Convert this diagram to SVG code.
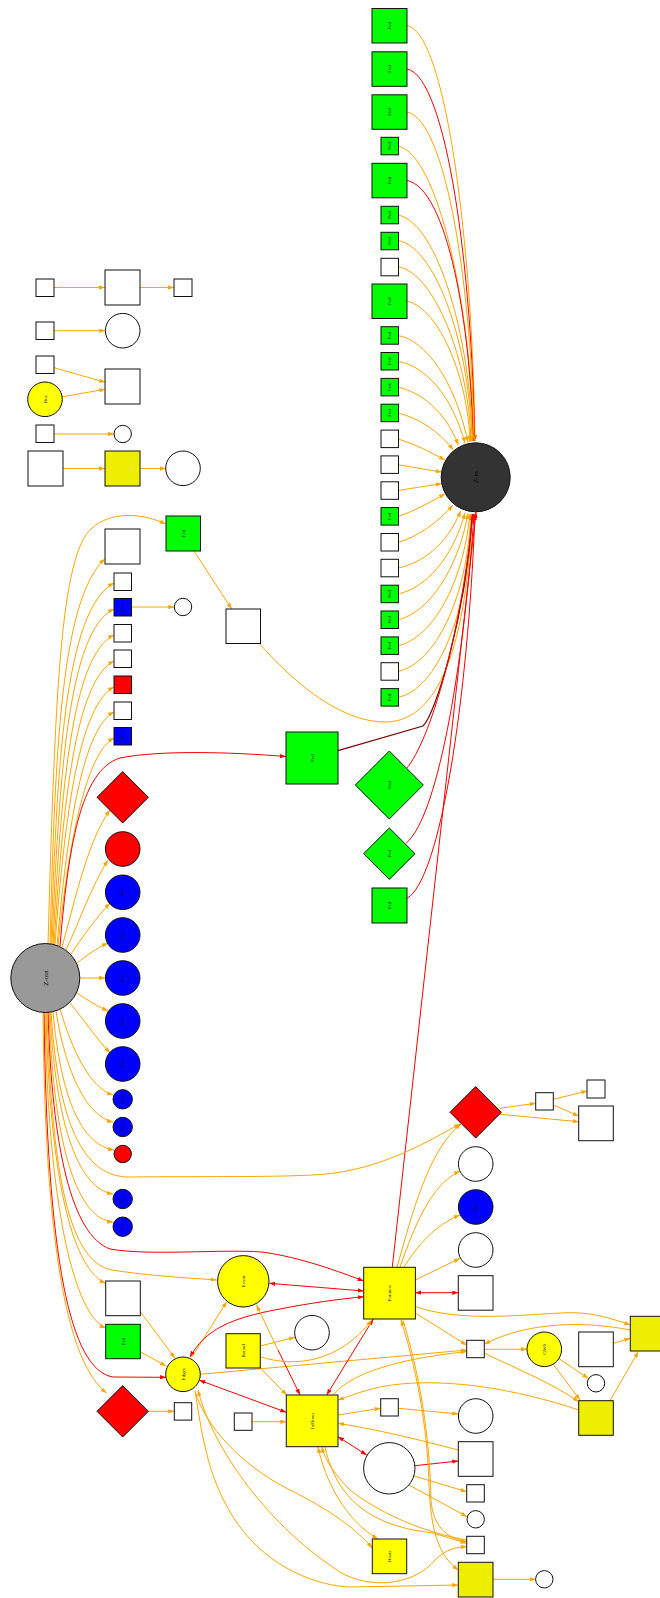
<svg xmlns="http://www.w3.org/2000/svg" width="660" height="1598" viewBox="0 0 660 1598">
<style>
  .n{stroke:#111;stroke-width:1}
  .w{fill:#fff}.g{fill:#00ff00}.b{fill:#0000ff}.r{fill:#ff0000}.y{fill:#ffff00}.y2{fill:#eeee00}
  .t{font-family:"Liberation Serif",serif;font-size:5px;text-anchor:middle;fill:#111}
  .tb{font-family:"Liberation Serif",serif;font-size:7px;text-anchor:middle;fill:#000}
  .eo{fill:none;stroke:#ffa500;stroke-width:1;marker-end:url(#ao)}
  .er{fill:none;stroke:#ff0000;stroke-width:1;marker-end:url(#ar)}
  .eo2{marker-start:url(#ao)}
  .er2{marker-start:url(#ar)}
  .em{fill:none;stroke:#800000;stroke-width:1.3}
</style>
<defs>
  <marker id="ao" viewBox="0 0 6 4.4" refX="6" refY="2.2" markerWidth="6" markerHeight="4.4" markerUnits="userSpaceOnUse" orient="auto-start-reverse"><path d="M0,0L6,2.2L0,4.4z" fill="#ffa500"/></marker>
  <marker id="ar" viewBox="0 0 6 4.4" refX="6" refY="2.2" markerWidth="6" markerHeight="4.4" markerUnits="userSpaceOnUse" orient="auto-start-reverse"><path d="M0,0L6,2.2L0,4.4z" fill="#ff0000"/></marker>
</defs>
<rect width="660" height="1598" fill="#fff"/>

<g id="connectors">
  <!-- loose pairs on the left -->
  <path class="eo" d="M54,287.5L105,287.5"/>
  <path class="eo" d="M140,287.5L174,287.5"/>
  <path class="eo" d="M54,330.7L105.4,330.7"/>
  <path class="eo" d="M54,367.7L105.3,382.3"/>
  <path class="eo" d="M62.7,396.7L105.3,389.3"/>
  <path class="eo" d="M54,434L114,434"/>
  <path class="eo" d="M63,468.5L105,468.5"/>
  <path class="eo" d="M140,468.5L166,468.5"/>

  <!-- fan-in to Z-in -->
  <path class="eo" d="M407,25.5C447,33.5 473,254 475,441"/>
  <path class="er" d="M407,69C447,77 472.5,274 474.5,441"/>
  <path class="eo" d="M407,112C447,120 472,293 474,441"/>
  <path class="eo" d="M398,146C438,154 471.5,308 473.5,441"/>
  <path class="er" d="M407,180.5C447,188 471,324 473,441"/>
  <path class="eo" d="M398,215C438,223 470.5,339 472.5,441.2"/>
  <path class="eo" d="M398,240.5C438,248 470,351 472,441.3"/>
  <path class="eo" d="M398,266.5C436,274 469,363 471,441.5"/>
  <path class="eo" d="M407,301C440,309 468,379 470,442"/>
  <path class="eo" d="M398,335.5C425,340 455,380 468,442.5"/>
  <path class="eo" d="M398,361.3C425,366 452,395 465,443.3"/>
  <path class="eo" d="M398,387.2C420,392 445,410 458.3,445"/>
  <path class="eo" d="M398,413C418,418 438,430 453.3,450"/>
  <path class="eo" d="M398,438.9C415,444 430,452 445,460"/>
  <path class="eo" d="M398,464.7C412,467 428,470 441.7,472"/>
  <path class="eo" d="M398,490.6C412,488 428,486 441.7,483.5"/>
  <path class="eo" d="M398,516.4C415,511 430,502 445,494"/>
  <path class="eo" d="M398,542.3C418,537 438,522 453,505"/>
  <path class="eo" d="M398,568.1C422,563 447,545 460.7,510.7"/>
  <path class="eo" d="M398,594C425,588 452,560 465,512.7"/>
  <path class="eo" d="M398,619.8C428,613 458,570 468,513.3"/>
  <path class="eo" d="M398,645.7C432,638 463,585 470,513.5"/>
  <path class="eo" d="M398,671.5C435,663 467,600 471,513.8"/>
  <path class="eo" d="M398,697.4C437,689 469,615 472,514"/>
  <path class="eo" d="M258,642C300,690 345,722 385,722C425,722 465,680 472,514"/>
  <path class="em" d="M338,750.7L423,726C435,715 465,620 472.5,514"/>
  <path class="er" d="M406.7,768.3C430,740 460,640 473,514"/>
  <path class="er" d="M406,843.3C440,815 465,650 474,514"/>
  <path class="er" d="M407,898.3C440,880 468,700 475,514"/>
  <path class="er" d="M392.3,1267L476,512"/>

  <!-- fan-out from Z-out -->
  <path class="eo" d="M48,944C55,700 60,555 92,528C110,512 140,512 165.7,524"/>
  <path class="eo" d="M50,944C55,760 60,600 105,558.7"/>
  <path class="eo" d="M51,944C57,770 64,610 114,583"/>
  <path class="eo" d="M52,944C59,780 68,630 114,609"/>
  <path class="eo" d="M53,944C61,790 72,655 114,635"/>
  <path class="eo" d="M54,945C63,800 76,680 114,661"/>
  <path class="eo" d="M55,945C65,810 80,705 114,687"/>
  <path class="eo" d="M57,946C68,820 84,728 114,712"/>
  <path class="eo" d="M58,946C70,830 88,752 114,738"/>
  <path class="er" d="M60,946C68,850 80,770 120,758C160,750 230,752 286,756.5"/>
  <path class="eo" d="M62,947C75,900 88,840 110,810"/>
  <path class="eo" d="M66,950C80,920 92,885 108,860"/>
  <path class="eo" d="M71,954C84,935 96,918 110,903"/>
  <path class="eo" d="M77,963C87,955 97,948 108,943"/>
  <path class="eo" d="M80,978L105,978"/>
  <path class="eo" d="M77,993C87,1000 97,1006 108,1011"/>
  <path class="eo" d="M70,1003C84,1020 96,1038 110,1053"/>
  <path class="eo" d="M60,1009C72,1050 90,1088 113,1095"/>
  <path class="eo" d="M56,1011C66,1075 88,1117 113,1122"/>
  <path class="eo" d="M53,1012C61,1100 82,1145 114,1150"/>
  <path class="eo" d="M51,1012C58,1120 82,1178 130,1177C200,1176 300,1178 335,1173C390,1165 430,1140 460,1124"/>
  <path class="eo" d="M50,1012C56,1130 80,1189 113,1194"/>
  <path class="eo" d="M49,1012C54,1150 78,1219 113,1222"/>
  <path class="er" d="M48,1012C52,1150 72,1235 110,1249C150,1256 220,1249 262,1252C300,1257 340,1272 363.7,1281"/>
  <path class="eo" d="M47,1012C52,1180 70,1262 112,1270C150,1276 190,1278 216.7,1280"/>
  <path class="eo" d="M46,1012C50,1190 75,1270 105.7,1283.3"/>
  <path class="eo" d="M45,1012C48,1210 75,1315 105.7,1328"/>
  <path class="er" d="M44,1012C47,1260 70,1370 113,1377L166,1377.3"/>
  <path class="eo" d="M43,1012C45,1260 70,1365 106.7,1393"/>

  <path class="eo" d="M194,551L231.7,609"/>
  <path class="eo" d="M131,607L174.3,607"/>

  <!-- lower cluster -->
  <path class="eo" d="M397,1267C412,1215 428,1150 461,1124"/>
  <path class="eo" d="M400,1267C414,1228 430,1185 460,1171"/>
  <path class="eo" d="M404,1267C418,1245 435,1225 460,1215"/>
  <path class="eo" d="M415.3,1280L460,1258.3"/>
  <path class="er er2" d="M415.3,1292.7L458.3,1292.7"/>
  <path class="eo" d="M415.7,1306.7C460,1322 520,1315 560,1313C590,1311 610,1318 630.3,1325"/>
  <path class="eo" d="M415.7,1313.3C435,1325 450,1335 466.7,1345"/>
  <path class="eo" d="M630.3,1330C590,1322 530,1320 484.3,1344.3"/>
  <path class="eo" d="M484.3,1349.3L527,1349.3"/>
  <path class="eo" d="M484.3,1353.3C520,1370 555,1385 578.7,1401.7"/>
  <path class="eo" d="M558,1358L588.3,1378.3"/>
  <path class="eo" d="M553,1364L580,1400"/>
  <path class="eo" d="M613.3,1343.3L630.3,1338.3"/>
  <path class="eo" d="M610,1400.7L638.3,1351.7"/>
  <path class="eo" d="M578.7,1410C520,1390 440,1375 380,1387C362,1391 350,1396 338,1400"/>
  <path class="eo" d="M200,1374.3L466.7,1350"/>
  <path class="eo" d="M333,1395C350,1375 390,1360 466.7,1351.5"/>
  <path class="eo" d="M338,1415L380.7,1408.3"/>
  <path class="eo" d="M398.3,1408.3L458.3,1414"/>
  <path class="eo" d="M458.3,1450C420,1440 380,1430 338,1423.3"/>
  <path class="er er2" d="M338,1436.7L366.7,1455"/>
  <path class="er" d="M415,1465.7L458.3,1461"/>
  <path class="eo" d="M414,1476L466.7,1491.7"/>
  <path class="eo" d="M409,1485L467,1516.7"/>
  <path class="eo" d="M493,1579.3L535.7,1579.3"/>
  <path class="eo" d="M140.3,1311.7L175,1358.3"/>
  <path class="eo" d="M140.3,1351.7L166,1366"/>
  <path class="eo" d="M148.3,1411.3L174.3,1411.3"/>
  <path class="eo" d="M252,1421.7L286.3,1421.7"/>
  <path class="er er2" d="M199.3,1380.2L286.3,1412.3"/>
  <path class="eo" d="M191.7,1357.5L226.7,1301.7"/>
  <path class="er er2" d="M190,1357C205,1330 230,1318 280,1309C310,1303 340,1299 363.7,1296.7"/>
  <path class="er er2" d="M269.3,1283.3L363.7,1291"/>
  <!-- Event / InFlows pair: orange half toward Event, red half toward InFlows -->
  <path class="eo" d="M278,1350L256.5,1305"/>
  <path class="er" d="M278,1350L300,1395"/>
  <path class="er er2" d="M373.3,1319L326.7,1395"/>
  <path class="eo" d="M260.3,1346L295,1337.3"/>
  <path class="eo" d="M260.3,1356.7C295,1368 340,1362 371.7,1320"/>
  <path class="eo" d="M260.3,1368L286.7,1395"/>
  <path class="eo" d="M500,1108.3L535.7,1103.3"/>
  <path class="eo" d="M500,1114.3L578.7,1121.7"/>
  <path class="eo" d="M553.3,1099.3L587.3,1091"/>
  <path class="eo" d="M553.3,1105L578.7,1116"/>
  <path class="eo" d="M195,1391C205,1425 240,1465 290,1490C330,1510 355,1528 372.3,1548"/>
  <path class="eo eo2" d="M198,1390C210,1440 260,1520 340,1572C370,1590 415,1585 435,1560C445,1550 455,1547 466.7,1546.7"/>
  <path class="eo" d="M195,1391C203,1440 208,1480 237,1523C270,1570 320,1586 350,1587L458.3,1585"/>
  <path class="eo eo2" d="M401,1320C420,1380 428,1440 429,1486C431,1530 438,1555 458.3,1570"/>
  <path class="eo" d="M403,1320C424,1390 430,1450 431,1500C433,1525 445,1538 466.7,1541.7"/>
  <path class="eo eo2" d="M318,1447C325,1480 345,1520 378,1539"/>
  <path class="eo" d="M466.7,1540C420,1532 375,1510 350,1490C335,1475 325,1460 321.7,1446.7"/>
  <path class="eo" d="M325,1447C335,1490 360,1525 433,1533L466.7,1543.3"/>
</g>

<!-- left loose nodes -->
<g id="l1"><rect class="n w" x="36" y="279" width="18" height="17.5"/></g>
<g id="l2"><rect class="n w" x="105" y="270" width="35" height="35"/></g>
<g id="l3"><rect class="n w" x="174" y="279" width="18" height="17.5"/></g>
<g id="l4"><rect class="n w" x="36" y="322" width="18" height="17.5"/></g>
<g id="l5"><circle class="n w" cx="122.7" cy="330.7" r="17.3"/></g>
<g id="l6"><rect class="n w" x="36" y="356" width="18" height="17.5"/></g>
<g id="l7"><circle class="n y" cx="45" cy="399.3" r="17.3"/><text class="t" transform="translate(45,399.3) rotate(-90)" dy="1.7">Bus</text></g>
<g id="l8"><rect class="n w" x="105" y="369" width="35" height="35"/></g>
<g id="l9"><rect class="n w" x="36" y="425" width="18" height="17.5"/></g>
<g id="l10"><circle class="n w" cx="122.7" cy="434" r="8.7"/></g>
<g id="l11"><rect class="n w" x="28" y="451" width="35" height="35"/></g>
<g id="l12"><rect class="n y2" x="105" y="451" width="35" height="35"/></g>
<g id="l13"><circle class="n w" cx="183" cy="468.3" r="17.3"/></g>

<!-- Z-in and its sources -->
<g id="zin"><circle class="n" cx="475.7" cy="477.3" r="34.5" fill="#333"/><text class="tb" transform="translate(475.7,477.3) rotate(-90)" dy="2.4">Z-in</text></g>
<g id="s1"><rect class="n g" x="372" y="8.5" width="35" height="34.5"/><text class="t" transform="translate(389.5,25.7) rotate(-90)" dy="1.7">Fed</text></g>
<g id="s2"><rect class="n g" x="372" y="51.8" width="35" height="34.5"/><text class="t" transform="translate(389.5,69) rotate(-90)" dy="1.7">Fed</text></g>
<g id="s3"><rect class="n g" x="372" y="94.8" width="35" height="34.5"/><text class="t" transform="translate(389.5,112) rotate(-90)" dy="1.7">Fed</text></g>
<g id="s4"><rect class="n g" x="381" y="137.3" width="17.5" height="17.5"/><text class="t" transform="translate(389.7,146) rotate(-90)" dy="1.7">Fed</text></g>
<g id="s5"><rect class="n g" x="372" y="163.3" width="35" height="34.5"/><text class="t" transform="translate(389.5,180.5) rotate(-90)" dy="1.7">Fed</text></g>
<g id="s6"><rect class="n g" x="381" y="206.3" width="17.5" height="17.5"/><text class="t" transform="translate(389.7,215) rotate(-90)" dy="1.7">Fed</text></g>
<g id="s7"><rect class="n g" x="381" y="232.3" width="17.5" height="17.5"/><text class="t" transform="translate(389.7,241) rotate(-90)" dy="1.7">Fed</text></g>
<g id="s8"><rect class="n w" x="381" y="258.3" width="17.5" height="17.5"/></g>
<g id="s9"><rect class="n g" x="372" y="284" width="35" height="34.5"/><text class="t" transform="translate(389.5,301.2) rotate(-90)" dy="1.7">Fed</text></g>
<g id="s10"><rect class="n g" x="381" y="326.7" width="17.5" height="17.5"/><text class="t" transform="translate(389.7,335.5) rotate(-90)" dy="1.7">Fed</text></g>
<g id="s11"><rect class="n g" x="381" y="352.5" width="17.5" height="17.5"/><text class="t" transform="translate(389.7,361.3) rotate(-90)" dy="1.7">Fed</text></g>
<g id="s12"><rect class="n g" x="381" y="378.4" width="17.5" height="17.5"/><text class="t" transform="translate(389.7,387.2) rotate(-90)" dy="1.7">Fed</text></g>
<g id="s13"><rect class="n g" x="381" y="404.2" width="17.5" height="17.5"/><text class="t" transform="translate(389.7,413) rotate(-90)" dy="1.7">Fed</text></g>
<g id="s14"><rect class="n w" x="381" y="430.1" width="17.5" height="17.5"/></g>
<g id="s15"><rect class="n w" x="381" y="455.9" width="17.5" height="17.5"/></g>
<g id="s16"><rect class="n w" x="381" y="481.8" width="17.5" height="17.5"/></g>
<g id="s17"><rect class="n g" x="381" y="507.6" width="17.5" height="17.5"/><text class="t" transform="translate(389.7,516.4) rotate(-90)" dy="1.7">Fed</text></g>
<g id="s18"><rect class="n w" x="381" y="533.5" width="17.5" height="17.5"/></g>
<g id="s19"><rect class="n w" x="381" y="559.3" width="17.5" height="17.5"/></g>
<g id="s20"><rect class="n g" x="381" y="585.2" width="17.5" height="17.5"/><text class="t" transform="translate(389.7,594) rotate(-90)" dy="1.7">Fed</text></g>
<g id="s21"><rect class="n g" x="381" y="611" width="17.5" height="17.5"/><text class="t" transform="translate(389.7,619.8) rotate(-90)" dy="1.7">Fed</text></g>
<g id="s22"><rect class="n g" x="381" y="636.9" width="17.5" height="17.5"/><text class="t" transform="translate(389.7,645.7) rotate(-90)" dy="1.7">Fed</text></g>
<g id="s23"><rect class="n w" x="381" y="662.7" width="17.5" height="17.5"/></g>
<g id="s24"><rect class="n g" x="381" y="688.6" width="17.5" height="17.5"/><text class="t" transform="translate(389.7,697.4) rotate(-90)" dy="1.7">Fed</text></g>
<g id="s25"><rect class="n w" x="226" y="609" width="34.5" height="34.5"/></g>
<g id="s26"><rect class="n g" x="286" y="732" width="52" height="52"/><text class="t" transform="translate(312,758) rotate(-90)" dy="1.7">Fed</text></g>
<g id="s27"><polygon class="n g" points="389.3,751 423.3,785 389.3,819 355.3,785"/><text class="t" transform="translate(389.3,785) rotate(-90)" dy="1.7">Fed</text></g>
<g id="s28"><polygon class="n g" points="389.3,828 415,853.7 389.3,879.4 363.6,853.7"/><text class="t" transform="translate(389.3,853.7) rotate(-90)" dy="1.7">Fed</text></g>
<g id="s29"><rect class="n g" x="372" y="888" width="35" height="35"/><text class="t" transform="translate(389.5,905.5) rotate(-90)" dy="1.7">Fed</text></g>

<!-- Z-out and its targets -->
<g id="zout"><circle class="n" cx="45.3" cy="978" r="34.5" fill="#999"/><text class="tb" transform="translate(45.3,978) rotate(-90)" dy="2.4">Z-out</text></g>
<g id="o1"><rect class="n g" x="166" y="516" width="34.5" height="35"/><text class="t" transform="translate(183.2,533.5) rotate(-90)" dy="1.7">Fed</text></g>
<g id="o2"><rect class="n w" x="105" y="529" width="35" height="35"/></g>
<g id="o3"><rect class="n w" x="114" y="573" width="17.5" height="17.5"/></g>
<g id="o4"><rect class="n b" x="114" y="598.5" width="17.5" height="17.5"/><text class="t" transform="translate(122.7,607.2) rotate(-90)" dy="1.7">Key</text></g>
<g id="o5"><circle class="n w" cx="183" cy="607" r="8.7"/></g>
<g id="o6"><rect class="n w" x="114" y="624.5" width="17.5" height="17.5"/></g>
<g id="o7"><rect class="n w" x="114" y="650" width="17.5" height="17.5"/></g>
<g id="o8"><rect class="n r" x="114" y="676" width="17.5" height="17.5"/></g>
<g id="o9"><rect class="n w" x="114" y="702" width="17.5" height="17.5"/></g>
<g id="o10"><rect class="n b" x="114" y="727.5" width="17.5" height="17.5"/><text class="t" transform="translate(122.7,736.2) rotate(-90)" dy="1.7">Key</text></g>
<g id="o11"><polygon class="n r" points="122.7,771.6 148.4,797.3 122.7,823 97,797.3"/></g>
<g id="o12"><circle class="n r" cx="122.7" cy="849" r="17.3"/></g>
<g id="o13"><circle class="n b" cx="122.7" cy="892.3" r="17.3"/><text class="t" transform="translate(122.7,892.3) rotate(-90)" dy="1.7">Key</text></g>
<g id="o14"><circle class="n b" cx="122.7" cy="935" r="17.3"/><text class="t" transform="translate(122.7,935) rotate(-90)" dy="1.7">Key</text></g>
<g id="o15"><circle class="n b" cx="122.7" cy="978" r="17.3"/><text class="t" transform="translate(122.7,978) rotate(-90)" dy="1.7">Key</text></g>
<g id="o16"><circle class="n b" cx="122.7" cy="1021" r="17.3"/><text class="t" transform="translate(122.7,1021) rotate(-90)" dy="1.7">Key</text></g>
<g id="o17"><circle class="n b" cx="122.7" cy="1064" r="17.3"/><text class="t" transform="translate(122.7,1064) rotate(-90)" dy="1.7">Key</text></g>
<g id="o18"><circle class="n b" cx="122.7" cy="1099.3" r="9.7"/><text class="t" transform="translate(122.7,1099.3) rotate(-90)" dy="1.7">Key</text></g>
<g id="o19"><circle class="n b" cx="122.7" cy="1127" r="9.7"/><text class="t" transform="translate(122.7,1127) rotate(-90)" dy="1.7">Key</text></g>
<g id="o20"><circle class="n r" cx="122.7" cy="1154" r="8.7"/></g>
<g id="o21"><circle class="n b" cx="122.7" cy="1199" r="9.7"/><text class="t" transform="translate(122.7,1199) rotate(-90)" dy="1.7">Key</text></g>
<g id="o22"><circle class="n b" cx="122.7" cy="1226.7" r="9.7"/><text class="t" transform="translate(122.7,1226.7) rotate(-90)" dy="1.7">Key</text></g>
<g id="o23"><rect class="n w" x="105.7" y="1281" width="34.6" height="34.7"/></g>
<g id="o24"><rect class="n g" x="105.7" y="1324.3" width="34.6" height="34.4"/><text class="t" transform="translate(123,1341.5) rotate(-90)" dy="1.7">Fed</text></g>
<g id="o25"><polygon class="n r" points="122.7,1385.6 148.4,1411.3 122.7,1437 97,1411.3"/></g>
<g id="o26"><rect class="n w" x="174.3" y="1402.7" width="17.4" height="17.4"/></g>

<!-- lower cluster -->
<g id="rd"><polygon class="n r" points="475.7,1086.6 501.4,1112.3 475.7,1138 450,1112.3"/></g>
<g id="sb1"><rect class="n w" x="535.7" y="1092.7" width="17.6" height="17.3"/></g>
<g id="sb2"><rect class="n w" x="587" y="1080" width="18" height="18"/></g>
<g id="bb"><rect class="n w" x="578.7" y="1106" width="34.6" height="34.7"/></g>
<g id="cw1"><circle class="n w" cx="475.7" cy="1164" r="17.3"/></g>
<g id="cb"><circle class="n b" cx="475.7" cy="1207" r="17.3"/><text class="t" transform="translate(475.7,1207) rotate(-90)" dy="1.7">Key</text></g>
<g id="cw2"><circle class="n w" cx="475.7" cy="1250" r="17.3"/></g>
<g id="nA"><circle class="n y" cx="243.3" cy="1281.3" r="25.7"/><text class="t" transform="translate(243.3,1281.3) rotate(-90)" dy="1.7">Event</text></g>
<g id="nP"><rect class="n y" x="363.7" y="1267.3" width="51.7" height="51.7"/><text class="t" transform="translate(389.5,1293.2) rotate(-90)" dy="1.7">Pointers</text></g>
<g id="nL"><rect class="n w" x="458.3" y="1275.7" width="34.7" height="34.5"/></g>
<g id="nC"><circle class="n w" cx="312" cy="1332.7" r="17.3"/></g>
<g id="nB"><rect class="n y" x="226" y="1333.7" width="34.3" height="34.3"/><text class="t" transform="translate(243.2,1350.8) rotate(-90)" dy="1.7">Bound</text></g>
<g id="nE"><circle class="n y" cx="183" cy="1374.3" r="17.3"/><text class="t" transform="translate(183,1374.3) rotate(-90)" dy="1.7">Edges</text></g>
<g id="nF"><rect class="n y" x="286.3" y="1395" width="51.7" height="51.7"/><text class="t" transform="translate(312.2,1420.8) rotate(-90)" dy="1.7">InFlows</text></g>
<g id="nH"><rect class="n w" x="234.3" y="1413" width="17.7" height="17.3"/></g>
<g id="nI"><rect class="n w" x="380.7" y="1398.7" width="17.6" height="17.3"/></g>
<g id="nM"><rect class="n w" x="466.7" y="1340.3" width="17.6" height="17.4"/></g>
<g id="nU"><circle class="n y" cx="544.3" cy="1349.3" r="17.3"/><text class="t" transform="translate(544.3,1349.3) rotate(-90)" dy="1.7">GW0</text></g>
<g id="nV"><rect class="n w" x="578.7" y="1332" width="34.6" height="34.7"/></g>
<g id="nY"><rect class="n y2" x="630.3" y="1316.3" width="34.7" height="34.7"/></g>
<g id="nW"><circle class="n w" cx="596" cy="1383.3" r="8.7"/></g>
<g id="nX"><rect class="n y2" x="578.7" y="1400.7" width="34.6" height="34.6"/></g>
<g id="nN"><circle class="n w" cx="475.7" cy="1416" r="17.3"/></g>
<g id="nJ"><circle class="n w" cx="389.3" cy="1468.3" r="25.7"/></g>
<g id="nO"><rect class="n w" x="458.3" y="1441.7" width="34.7" height="34.6"/></g>
<g id="nQ"><rect class="n w" x="466.7" y="1484.7" width="17.6" height="17.3"/></g>
<g id="nR"><circle class="n w" cx="475.7" cy="1519.3" r="8.7"/></g>
<g id="nS"><rect class="n w" x="466.7" y="1536.3" width="17.6" height="17.4"/></g>
<g id="nK"><rect class="n y" x="372.3" y="1539" width="34.4" height="34.7"/><text class="t" transform="translate(389.5,1556.3) rotate(-90)" dy="1.7">Hosts</text></g>
<g id="nT"><rect class="n y2" x="458.3" y="1562.3" width="34.7" height="34.7"/></g>
<g id="nTc"><circle class="n w" cx="544.3" cy="1579.3" r="8.7"/></g>
</svg>
